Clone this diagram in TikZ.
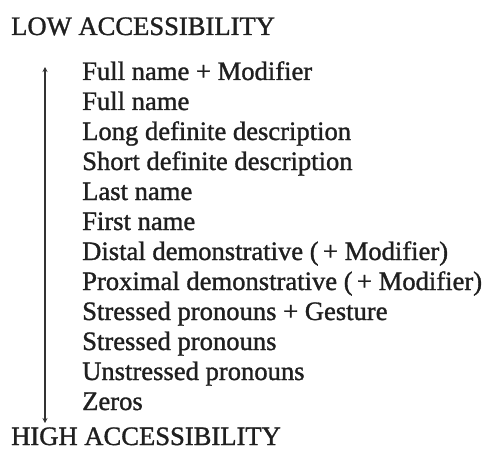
\documentclass[tikz,border=0pt]{standalone}
\usepackage{fontspec}
\setmainfont{Liberation Serif}
\newfontfamily\scanfont{Liberation Serif}[FakeBold=1.2]
\usetikzlibrary{arrows.meta}
\begin{document}
\begin{tikzpicture}[x=1pt,y=1pt,
  txt/.style={anchor=base west,inner sep=0pt,font=\scanfont\fontsize{26.6}{30}\selectfont,text=black!88},
  head/.style={anchor=base west,inner sep=0pt,font=\scanfont\fontsize{26.6}{30}\selectfont,text=black!88},
  scale arrow/.style={line width=1.5pt,black!80,{Stealth[length=5pt,width=5pt]}-{Stealth[length=5pt,width=5pt]}}]
\useasboundingbox (0,0) rectangle (486,456);
\node[head] (low) at (11,421) {LOW ACCESSIBILITY};
\node[head] (high) at (11,11) {HIGH ACCESSIBILITY};
\foreach \t [count=\i] in {Full name + Modifier,Full name,Long definite description,Short definite description,Last name,First name,Distal demonstrative (\,+ Modifier),Proximal demonstrative (\,+ Modifier),Stressed pronouns + Gesture,Stressed pronouns,Unstressed pronouns,Zeros}{
  \node[txt] (item\i) at (82,{456-80-(\i-1)*30}) {\t};
}
\coordinate (atop) at (45,389);
\coordinate (abot) at (45,33);
\draw[scale arrow] (abot) -- (atop);
\end{tikzpicture}
\end{document}
